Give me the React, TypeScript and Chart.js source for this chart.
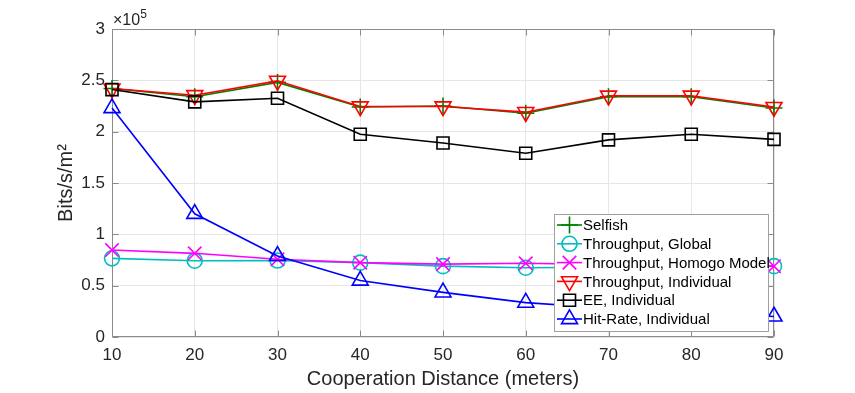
import React, { useEffect, useRef } from 'react';
import { Chart, registerables } from 'chart.js';
import { drawPoint } from 'chart.js/helpers';

Chart.register(...registerables);

// ---- data ----
const distances = [10, 20, 30, 40, 50, 60, 70, 80, 90];
const seriesLabels = [
  'Selfish',
  'Throughput, Global',
  'Throughput, Homogo Model',
  'Throughput, Individual',
  'EE, Individual',
  'Hit-Rate, Individual',
];
const selfish = [242000, 234000, 248000, 224000, 225000, 218000, 234000, 234000, 223000];
const throughputGlobal = [76600, 74300, 74500, 72400, 69000, 67500, 68000, 68500, 69000];
const throughputHomogo = [84700, 81500, 75700, 72400, 71000, 71800, 70500, 70000, 69000];
const throughputIndividual = [242000, 235500, 249500, 224500, 224500, 219000, 235000, 235000, 224000];
const eeIndividual = [241000, 229000, 232500, 197500, 189000, 179000, 192000, 197500, 192500];
const hitRateIndividual = [223000, 120000, 79000, 55000, 43500, 33500, 28000, 24000, 20000];
const yTickValues = [0, 50000, 100000, 150000, 200000, 250000, 300000];
const yTickLabels = ['0', '0.5', '1', '1.5', '2', '2.5', '3'];
const xTickValues = [10, 20, 30, 40, 50, 60, 70, 80, 90];

const FONT = '"Liberation Sans", Arial, Helvetica, sans-serif';
const AXIS_COLOR = '#8a8a8a';
const TEXT_COLOR = '#262626';

const axesBoxPlugin = {
  id: 'axesBox',
  beforeDatasetsDraw(chart: any) {
    const { ctx, chartArea: a, scales } = chart;
    const L = Math.round(a.left) + 0.5;
    const R = Math.round(a.right) - 0.5;
    const T = Math.round(a.top) + 0.5;
    const B = Math.round(a.bottom) - 0.5;
    ctx.save();
    ctx.strokeStyle = AXIS_COLOR;
    ctx.lineWidth = 1;
    ctx.beginPath();
    ctx.moveTo(L, T); ctx.lineTo(R, T); ctx.lineTo(R, B); ctx.lineTo(L, B); ctx.closePath();
    const tl = 6;
    xTickValues.forEach((v) => {
      const px = Math.round(scales.x.getPixelForValue(v)) + 0.5;
      ctx.moveTo(px, B); ctx.lineTo(px, B - tl);
      ctx.moveTo(px, T); ctx.lineTo(px, T + tl);
    });
    yTickValues.forEach((v) => {
      const py = Math.round(scales.y.getPixelForValue(v)) + 0.5;
      ctx.moveTo(L, py); ctx.lineTo(L + tl, py);
      ctx.moveTo(R, py); ctx.lineTo(R - tl, py);
    });
    ctx.stroke();
    ctx.restore();
  },
  afterDraw(chart: any) {
    const { ctx, chartArea: a } = chart;
    ctx.save();
    ctx.fillStyle = TEXT_COLOR;
    ctx.textBaseline = 'alphabetic';
    ctx.textAlign = 'left';
    ctx.font = `16px ${FONT}`;
    const base = '\u00d710';
    ctx.fillText(base, a.left + 1, a.top - 4);
    const w = ctx.measureText(base).width;
    ctx.font = `12px ${FONT}`;
    ctx.fillText('5', a.left + 1 + w, a.top - 11);
    ctx.restore();
  },
};

const legendPlugin = {
  id: 'boxLegend',
  afterDraw(chart: any) {
    const { ctx, chartArea: a } = chart;
    const w = 214;
    const h = 117;
    const rowH = 18.8;
    const x0 = Math.round(a.right) - 6 - w;
    const y0 = Math.round(a.bottom) - 6 - h;
    ctx.save();
    ctx.fillStyle = '#ffffff';
    ctx.fillRect(x0, y0, w, h);
    ctx.strokeStyle = '#a0a0a0';
    ctx.lineWidth = 1;
    ctx.strokeRect(x0 + 0.5, y0 + 0.5, w, h);
    ctx.font = `15px ${FONT}`;
    ctx.textBaseline = 'middle';
    ctx.textAlign = 'left';
    chart.data.datasets.forEach((ds: any, i: number) => {
      const y = y0 + 11 + i * rowH;
      ctx.strokeStyle = ds.borderColor;
      ctx.lineWidth = ds.borderWidth;
      ctx.beginPath();
      ctx.moveTo(x0 + 3, y);
      ctx.lineTo(x0 + 28, y);
      ctx.stroke();
      ctx.fillStyle = 'rgba(0,0,0,0)';
      ctx.strokeStyle = ds.pointBorderColor;
      ctx.lineWidth = ds.pointBorderWidth;
      drawPoint(
        ctx,
        {
          pointStyle: ds.pointStyle,
          rotation: ds.pointRotation || 0,
          radius: ds.pointRadius,
          borderWidth: ds.pointBorderWidth,
        } as any,
        x0 + 15.5,
        y
      );
      ctx.fillStyle = '#000000';
      ctx.fillText(ds.label, x0 + 29, y + 1);
    });
    ctx.restore();
  },
};

function makeDataset(
  label: string,
  values: number[],
  color: string,
  pointStyle: string,
  radius: number,
  order: number,
  rotation = 0
) {
  return {
    label,
    data: values.map((v, i) => ({ x: distances[i], y: v })),
    borderColor: color,
    backgroundColor: 'rgba(0,0,0,0)',
    borderWidth: 1.6,
    pointStyle,
    pointRotation: rotation,
    pointRadius: radius,
    pointHoverRadius: radius,
    pointBorderColor: color,
    pointBackgroundColor: 'rgba(0,0,0,0)',
    pointBorderWidth: 1.6,
    tension: 0,
    fill: false,
    clip: false,
    order,
  };
}

export default function App() {
  const canvasRef = useRef<HTMLCanvasElement | null>(null);

  useEffect(() => {
    if (!canvasRef.current) return;
    Chart.defaults.font.family = FONT;
    Chart.defaults.color = TEXT_COLOR;
    const chart = new Chart(canvasRef.current, {
      type: 'line',
      data: {
        datasets: [
          makeDataset(seriesLabels[0], selfish, '#008000', 'cross', 8.5, 6),
          makeDataset(seriesLabels[1], throughputGlobal, '#00bfbf', 'circle', 7.5, 5),
          makeDataset(seriesLabels[2], throughputHomogo, '#ff00ff', 'crossRot', 9.5, 4),
          makeDataset(seriesLabels[3], throughputIndividual, '#ff0000', 'triangle', 9.2, 3, 180),
          makeDataset(seriesLabels[4], eeIndividual, '#000000', 'rect', 8.5, 2),
          makeDataset(seriesLabels[5], hitRateIndividual, '#0000ff', 'triangle', 9.2, 1),
        ] as any,
      },
      options: {
        responsive: false,
        animation: false,
        layout: { padding: { left: 0, top: 29, right: 81, bottom: 0 } },
        plugins: {
          legend: { display: false },
          tooltip: { enabled: false },
        },
        scales: {
          x: {
            type: 'linear',
            min: 10,
            max: 90,
            afterBuildTicks: (scale: any) => {
              scale.ticks = xTickValues.map((v) => ({ value: v }));
            },
            afterFit: (scale: any) => {
              scale.height = 56;
            },
            ticks: {
              font: { size: 17 },
              color: TEXT_COLOR,
              padding: 8,
              maxRotation: 0,
              autoSkip: false,
            },
            grid: { color: '#e6e6e6', drawTicks: false, lineWidth: 1 },
            border: { display: false },
            title: {
              display: true,
              text: 'Cooperation Distance (meters)',
              font: { size: 20 },
              color: TEXT_COLOR,
              padding: { top: 0, bottom: 2 },
            },
          },
          y: {
            type: 'linear',
            min: 0,
            max: 300000,
            afterBuildTicks: (scale: any) => {
              scale.ticks = yTickValues.map((v) => ({ value: v }));
            },
            afterFit: (scale: any) => {
              scale.width = 112;
            },
            ticks: {
              font: { size: 17 },
              color: TEXT_COLOR,
              padding: 7,
              autoSkip: false,
              callback: (value: any) => {
                const idx = yTickValues.indexOf(Number(value));
                return idx >= 0 ? yTickLabels[idx] : '';
              },
            },
            grid: { color: '#e6e6e6', drawTicks: false, lineWidth: 1 },
            border: { display: false },
            title: {
              display: true,
              text: 'Bits/s/m\u00b2',
              font: { size: 20 },
              color: TEXT_COLOR,
              padding: { top: 54, bottom: 0 },
            },
          },
        },
      },
      plugins: [axesBoxPlugin, legendPlugin],
    } as any);
    return () => chart.destroy();
  }, []);

  return (
    <div style={{ position: 'absolute', left: 0, top: 0, width: 855, height: 393, background: '#ffffff' }}>
      <canvas ref={canvasRef} width={855} height={393} style={{ display: 'block' }} />
    </div>
  );
}
